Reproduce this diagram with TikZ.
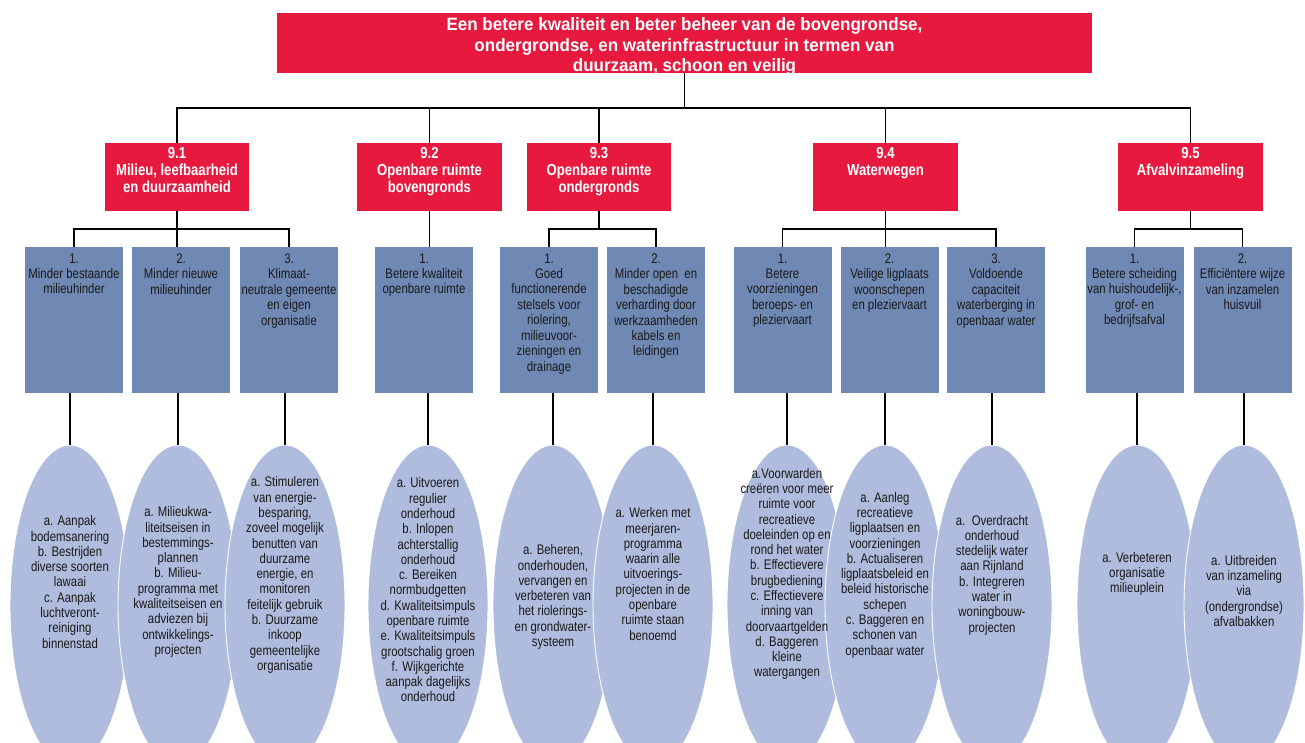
\documentclass[tikz,border=0pt]{standalone}
\usepackage{fontspec}
\setmainfont{Liberation Sans}[FakeStretch=0.82]
\newfontfamily\themefont{Liberation Sans}[FakeStretch=0.95]
\usetikzlibrary{shapes.geometric}
\definecolor{themered}{RGB}{232,25,62}
\definecolor{itemblue}{RGB}{111,137,180}
\definecolor{goalblue}{RGB}{176,188,221}

\begin{document}
\begin{tikzpicture}[x=0.02cm, y=-0.02cm,
  theme/.style={fill=themered, minimum width=16.3cm, minimum height=1.2cm, inner sep=0},
  themetext/.style={inner sep=0, yshift=-0.07cm, align=center, text=white, font=\themefont\bfseries\fontsize{10.2}{11.7}\selectfont},
  section/.style={fill=themered, minimum width=2.9cm, minimum height=1.36cm, inner sep=0},
  sectiontext/.style={anchor=north, inner sep=2.6pt, align=center, text=white, font=\bfseries\fontsize{9.1}{9.7}\selectfont},
  item/.style={fill=itemblue, minimum width=1.96cm, minimum height=2.92cm, inner sep=0},
  itemtext/.style={anchor=north, inner sep=3.7pt, align=center, text=black!90, font=\fontsize{7.9}{8.8}\selectfont},
  goal/.style={ellipse, fill=goalblue, draw=white, line width=0.5pt, minimum width=2.4cm, minimum height=6.4cm, inner sep=0},
  goaltext/.style={align=center, inner sep=0, text=black!90, font=\fontsize{7.9}{8.7}\selectfont},
  link/.style={draw=black, line width=0.6pt}
]
  \useasboundingbox (0,0) rectangle (1305,743);
  \clip (0,0) rectangle (1305,743);

  % Theme
  \node[theme] (title) at (684.5,43) {};
  \node[themetext] (titlet) at (title.center) {Een betere kwaliteit en beter beheer van de bovengrondse,\\ondergrondse, en waterinfrastructuur in termen van\\duurzaam, schoon en veilig};

  % Sections
  \node[section] (r1) at (177,177) {};
  \node[section] (r2) at (429.5,177) {};
  \node[section] (r3) at (599,177) {};
  \node[section] (r4) at (885.5,177) {};
  \node[section] (r5) at (1190.5,177) {};
  \node[sectiontext] (r1t) at (r1.north) {9.1\\Milieu, leefbaarheid\\en duurzaamheid};
  \node[sectiontext] (r2t) at (r2.north) {9.2\\Openbare ruimte\\bovengronds};
  \node[sectiontext] (r3t) at (r3.north) {9.3\\Openbare ruimte\\ondergronds};
  \node[sectiontext] (r4t) at (r4.north) {9.4\\Waterwegen};
  \node[sectiontext] (r5t) at (r5.north) {9.5\\Afvalvinzameling};

  % Items
  \node[item] (b1) at (74,320) {};
  \node[item] (b2) at (181,320) {};
  \node[item] (b3) at (289,320) {};
  \node[item] (b4) at (424,320) {};
  \node[item] (b5) at (549,320) {};
  \node[item] (b6) at (656,320) {};
  \node[item] (b7) at (782.5,320) {};
  \node[item] (b8) at (889.5,320) {};
  \node[item] (b9) at (996,320) {};
  \node[item] (b10) at (1134.5,320) {};
  \node[item] (b11) at (1242.5,320) {};
  \node[itemtext] (b1t) at (b1.north) {1.\\Minder bestaande\\milieuhinder};
  \node[itemtext] (b2t) at (b2.north) {2.\\Minder nieuwe\\milieuhinder};
  \node[itemtext] (b3t) at (b3.north) {3.\\Klimaat-\\neutrale gemeente\\en eigen\\organisatie};
  \node[itemtext] (b4t) at (b4.north) {1.\\Betere kwaliteit\\openbare ruimte};
  \node[itemtext] (b5t) at (b5.north) {1.\\Goed\\functionerende\\stelsels voor\\riolering,\\milieuvoor-\\zieningen en\\drainage};
  \node[itemtext] (b6t) at (b6.north) {2.\\Minder open\ \ en\\beschadigde\\verharding door\\werkzaamheden\\kabels en\\leidingen};
  \node[itemtext] (b7t) at (b7.north) {1.\\Betere\\voorzieningen\\beroeps- en\\pleziervaart};
  \node[itemtext] (b8t) at (b8.north) {2.\\Veilige ligplaats\\woonschepen\\en pleziervaart};
  \node[itemtext] (b9t) at (b9.north) {3.\\Voldoende\\capaciteit\\waterberging in\\openbaar water};
  \node[itemtext] (b10t) at (b10.north) {1.\\Betere scheiding\\van huishoudelijk-,\\grof- en\\bedrijfsafval};
  \node[itemtext] (b11t) at (b11.north) {2.\\Efficiëntere wijze\\van inzamelen\\huisvuil};

  % Goals
  \node[goal] (e1) at (70,605) {};
  \node[goal] (e2) at (178,605) {};
  \node[goal] (e3) at (285,605) {};
  \node[goal] (e4) at (428,605) {};
  \node[goal] (e5) at (553,605) {};
  \node[goal] (e6) at (653,605) {};
  \node[goal] (e7) at (787,605) {};
  \node[goal] (e8) at (885,605) {};
  \node[goal] (e9) at (992,605) {};
  \node[goal] (e10) at (1137,605) {};
  \node[goal] (e11) at (1244,605) {};
  \node[goaltext] (e1t) at (70,582) {a. Aanpak\\bodemsanering\\b. Bestrijden\\diverse soorten\\lawaai\\c. Aanpak\\luchtveront-\\reiniging\\binnenstad};
  \node[goaltext] (e2t) at (178,582) {a. Milieukwa-\\liteitseisen in\\bestemmings-\\plannen\\b. Milieu-\\programma met\\kwaliteitseisen en\\adviezen bij\\ontwikkelings-\\projecten};
  \node[goaltext] (e3t) at (285,575) {a. Stimuleren\\van energie-\\besparing,\\zoveel mogelijk\\benutten van\\duurzame\\energie, en\\monitoren\\feitelijk gebruik\\b. Duurzame\\inkoop\\gemeentelijke\\organisatie};
  \node[goaltext] (e4t) at (428,590) {a. Uitvoeren\\regulier\\onderhoud\\b. Inlopen\\achterstallig\\onderhoud\\c. Bereiken\\normbudgetten\\d. Kwaliteitsimpuls\\openbare ruimte\\e. Kwaliteitsimpuls\\grootschalig groen\\f. Wijkgerichte\\aanpak dagelijks\\onderhoud};
  \node[goaltext] (e5t) at (553,597) {a. Beheren,\\onderhouden,\\vervangen en\\verbeteren van\\het riolerings-\\en grondwater-\\systeem};
  \node[goaltext] (e6t) at (653,574) {a. Werken met\\meerjaren-\\programma\\waarin alle\\uitvoerings-\\projecten in de\\openbare\\ruimte staan\\benoemd};
  \node[goaltext] (e7t) at (787,574) {a.Voorwarden\\creëren voor meer\\ruimte voor\\recreatieve\\doeleinden op en\\rond het water\\b. Effectievere\\brugbediening\\c. Effectievere\\inning van\\doorvaartgelden\\d. Baggeren\\kleine\\watergangen};
  \node[goaltext] (e8t) at (885,575) {a. Aanleg\\recreatieve\\ligplaatsen en\\voorzieningen\\b. Actualiseren\\ligplaatsbeleid en\\beleid historische\\schepen\\c. Baggeren en\\schonen van\\openbaar water};
  \node[goaltext] (e9t) at (992,575) {a.\ \ Overdracht\\onderhoud\\stedelijk water\\aan Rijnland\\b. Integreren\\water in\\woningbouw-\\projecten};
  \node[goaltext] (e10t) at (1137,574) {a. Verbeteren\\organisatie\\milieuplein};
  \node[goaltext] (e11t) at (1244,591) {a. Uitbreiden\\van inzameling\\via\\(ondergrondse)\\afvalbakken};

  % Links theme - sections
  \coordinate (bus) at (684.5,108);
  \draw[link] (title.south) -- (bus);
  \draw[link] (r1.north) |- (bus) -| (r5.north);
  \draw[link] (r2.north) -- (r2.north |- bus);
  \draw[link] (r3.north) -- (r3.north |- bus);
  \draw[link] (r4.north) -- (r4.north |- bus);

  % Links sections - items
  \coordinate (bus1) at (177,229);
  \coordinate (bus3) at (599,229);
  \coordinate (bus4) at (885.5,229);
  \coordinate (bus5) at (1190.5,229);
  \draw[link] (r1.south) -- (bus1);
  \draw[link] (b1.north) |- (bus1) -| (b3.north);
  \draw[link] (bus1) -- (bus1 |- b2.north);
  \draw[link] (r2.south) -- (r2.south |- b4.north);
  \draw[link] (r3.south) -- (bus3);
  \draw[link] (b5.north) |- (bus3) -| (b6.north);
  \draw[link] (r4.south) -- (bus4);
  \draw[link] (b7.north) |- (bus4) -| (b9.north);
  \draw[link] (bus4) -- (bus4 |- b8.north);
  \draw[link] (r5.south) -- (bus5);
  \draw[link] (b10.north) |- (bus5) -| (b11.north);

  % Links items - goals
  \draw[link] (e1.north) -- (e1.north |- b1.south);
  \draw[link] (e2.north) -- (e2.north |- b2.south);
  \draw[link] (e3.north) -- (e3.north |- b3.south);
  \draw[link] (e4.north) -- (e4.north |- b4.south);
  \draw[link] (e5.north) -- (e5.north |- b5.south);
  \draw[link] (e6.north) -- (e6.north |- b6.south);
  \draw[link] (e7.north) -- (e7.north |- b7.south);
  \draw[link] (e8.north) -- (e8.north |- b8.south);
  \draw[link] (e9.north) -- (e9.north |- b9.south);
  \draw[link] (e10.north) -- (e10.north |- b10.south);
  \draw[link] (e11.north) -- (e11.north |- b11.south);
\end{tikzpicture}
\end{document}
